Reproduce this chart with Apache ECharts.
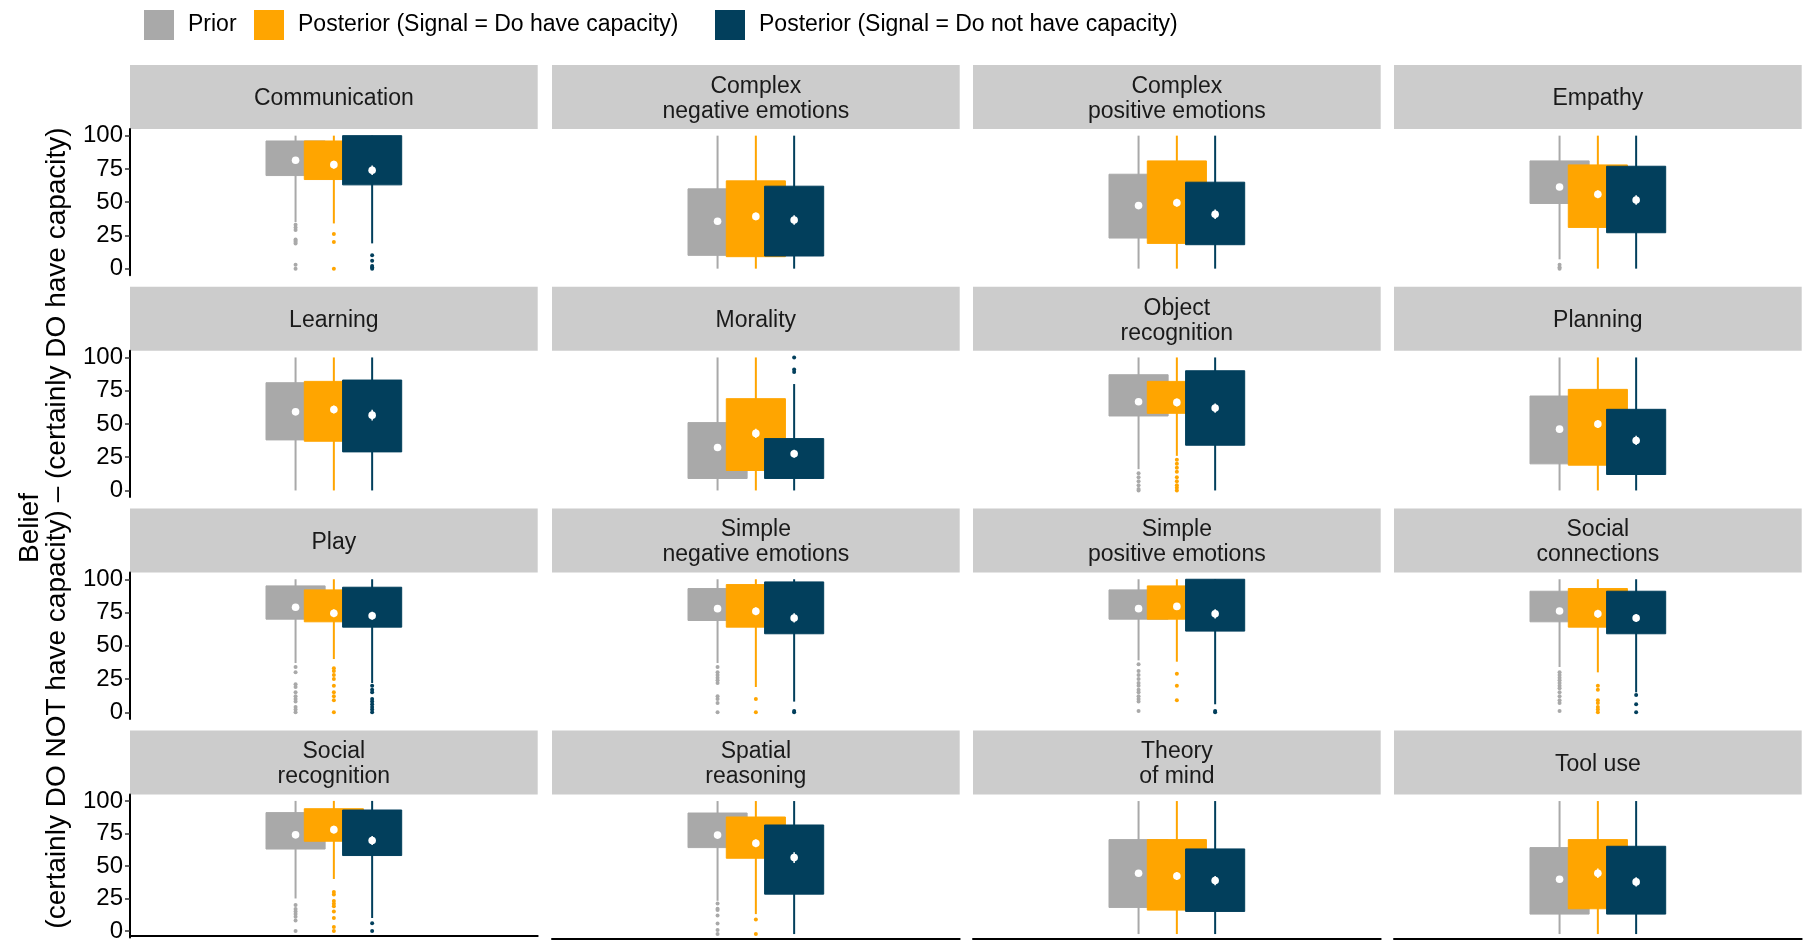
<!DOCTYPE html>
<html>
<head>
<meta charset="utf-8">
<title>Beliefs about capacities</title>
<script src="https://cdn.jsdelivr.net/npm/echarts@6/dist/echarts.min.js"></script>
<style>
html, body { margin: 0; padding: 0; background: #fff; }
#chart { width: 1807px; height: 943px; }
</style>
</head>
<body>
<div id="chart"></div>
<script>
// facets, in reading order
const capacities = [
  'Communication', 'Complex\nnegative emotions', 'Complex\npositive emotions', 'Empathy',
  'Learning', 'Morality', 'Object\nrecognition', 'Planning',
  'Play', 'Simple\nnegative emotions', 'Simple\npositive emotions', 'Social\nconnections',
  'Social\nrecognition', 'Spatial\nreasoning', 'Theory\nof mind', 'Tool use'
]
const groupNames = ['Prior', 'Posterior (Signal = Do have capacity)', 'Posterior (Signal = Do not have capacity)']
const yTicks = [0, 25, 50, 75, 100]

// [lower whisker, Q1, Q3, upper whisker]
const priorBoxes = [
  [35, 70, 96, 100], [0, 10, 60, 100], [0, 23, 71, 100], [7, 49, 81, 100],
  [0, 38, 81, 100], [0, 9, 51, 100], [16, 56, 87, 100], [0, 20, 71, 100],
  [37, 70, 95, 100], [37, 69, 93, 100], [39, 70, 92, 100], [34, 68, 91, 100],
  [25, 63, 91, 100], [25, 65, 91, 100], [0, 20, 71, 100], [0, 15, 65, 100]
]
const haveBoxes = [
  [34, 67, 96, 100], [0, 9, 66, 100], [0, 19, 81, 100], [0, 31, 78, 100],
  [0, 37, 82, 100], [0, 15, 69, 100], [26, 58, 82, 100], [0, 19, 76, 100],
  [40, 68, 92, 100], [19, 64, 96, 100], [38, 70, 95, 100], [30, 64, 93, 100],
  [40, 69, 94, 100], [15, 57, 88, 100], [0, 18, 71, 100], [0, 19, 71, 100]
]
const notBoxes = [
  [19, 63, 100, 100], [0, 9.5, 62, 100], [0, 18, 65, 100], [0, 27, 77, 100],
  [0, 29, 83, 100], [0, 9, 39, 80], [0, 34, 90, 100], [0, 12, 61, 100],
  [22, 64, 94, 100], [8, 59, 98, 100], [6, 61, 100, 100], [15, 59, 91, 100],
  [10, 58, 93, 100], [0, 30, 82, 100], [0, 17, 64, 100], [0, 15, 66, 100]
]

const priorMeans = [81.5, 35.6, 47.4, 61.4, 59.1, 32.3, 66.7, 46.1, 78.9, 77.9, 77.9, 76.1, 73.9, 74.4, 45.7, 41.2]
const haveMeans = [78.2, 39.3, 49.6, 55.9, 60.9, 42.9, 66.2, 49.9, 74.4, 75.9, 79.6, 74, 77.9, 68.3, 43.7, 45.7]
const notMeans = [74, 36.6, 40.9, 51.6, 56.6, 27.6, 61.9, 37.6, 72.6, 70.9, 74, 70.9, 69.6, 57.5, 40.2, 39.2]

// half width of the interval drawn through each mean
const priorCI = [2, 2, 2, 2, 2, 2, 2, 2, 1.5, 1.5, 1.5, 1.5, 2, 2, 2, 2]
const haveCI = [3, 3, 3, 3, 3, 3.5, 3, 3, 3, 3, 2.5, 3, 3, 3, 3, 3.5]
const notCI = [3.5, 3.5, 3.5, 3.5, 4, 3, 3.5, 3.5, 3, 3.5, 3.5, 3, 3.5, 4, 3.5, 3.5]

const priorOutliers = [
  [33, 31, 29, 22, 21, 20, 19, 3, 0], [], [], [3, 1, 0],
  [], [], [13, 10, 7, 4, 1, 0], [],
  [34, 30, 21, 19, 15, 12, 10, 8, 4, 2, 0], [34, 30, 28, 26, 24, 22, 12, 10, 7, 0],
  [36, 31, 28, 25, 22, 20, 17, 15, 12, 10, 8, 1], [30, 28, 26, 24, 22, 20, 18, 15, 12, 9, 7, 1],
  [20, 17, 15, 13, 11, 8, 0], [23, 19, 18, 14, 8, 3, 0], [], []
]
const haveOutliers = [
  [26, 20, 0], [], [], [],
  [], [], [23, 20, 17, 14, 10, 7, 4, 2, 0], [],
  [33, 31, 28, 25, 20, 15, 12, 9, 0], [10, 0], [29, 20, 9], [20, 17, 9, 7, 4, 2, 0],
  [30, 28, 23, 21, 19, 15, 10, 3, 0], [11, 0], [], []
]
const notOutliers = [
  [10, 6, 2, 1, 0], [], [], [],
  [], [100, 91, 89], [], [],
  [20, 17, 15, 10, 8, 6, 4, 2, 0], [1, 0], [1, 0], [13, 6, 0],
  [6, 0], [], [], []
]

const COLORS = ['#A9A9A9', '#FFA500', '#023F5C']
const FONT = "'Liberation Sans', Arial, sans-serif"

// panel geometry (px)
const COL_LEFT = [130, 552, 973, 1394]
const ROW_TOP = [129, 350.8, 572.6, 794.4]
const PANEL_W = 407.7
const PANEL_H = 146.3
const STRIP_H = 64
// dodge positions on the x scale (one discrete slot at x = 1)
const DODGE = [-0.1127, 0, 0.1127]
const BOX_W = 0.174

const boxes = [priorBoxes, haveBoxes, notBoxes]
const means = [priorMeans, haveMeans, notMeans]
const cis = [priorCI, haveCI, notCI]
const outliers = [priorOutliers, haveOutliers, notOutliers]

function renderBox(params, api) {
  const x = api.value(0)
  const lo = api.coord([x, api.value(1)])
  const q1 = api.coord([x, api.value(2)])
  const q3 = api.coord([x, api.value(3)])
  const hi = api.coord([x, api.value(4)])
  const w = api.size([BOX_W, 0])[0]
  const color = api.visual('color')
  return {
    type: 'group',
    children: [
      { type: 'line', shape: { x1: lo[0], y1: lo[1], x2: hi[0], y2: hi[1] }, style: { stroke: color, lineWidth: 2 } },
      { type: 'rect', shape: { x: q3[0] - w / 2, y: q3[1], width: w, height: q1[1] - q3[1] }, style: { fill: color, stroke: color, lineWidth: 1 } }
    ]
  }
}

function renderMean(params, api) {
  const x = api.value(0)
  const m = api.value(1)
  const h = api.value(2)
  const c = api.coord([x, m])
  const lo = api.coord([x, m - h])
  const hi = api.coord([x, m + h])
  return {
    type: 'group',
    children: [
      { type: 'line', shape: { x1: lo[0], y1: lo[1], x2: hi[0], y2: hi[1] }, style: { stroke: '#fff', lineWidth: 1.5 } },
      { type: 'circle', shape: { cx: c[0], cy: c[1], r: 3.8 }, style: { fill: '#fff' } }
    ]
  }
}

const grid = []
const xAxis = []
const yAxis = []
const series = []
const graphic = []

capacities.forEach((cap, i) => {
  const r = Math.floor(i / 4)
  const c = i % 4
  grid.push({ left: COL_LEFT[c], top: ROW_TOP[r], width: PANEL_W, height: PANEL_H })
  xAxis.push({
    gridIndex: i, type: 'value', min: 0.4, max: 1.6, show: r === 3, offset: -2,
    axisLine: { show: true, onZero: false, lineStyle: { color: '#000', width: 2 } },
    axisTick: { show: false }, axisLabel: { show: false }, splitLine: { show: false }
  })
  yAxis.push({
    gridIndex: i, type: 'value', min: -5, max: 105, show: c === 0,
    axisLine: { show: true, onZero: false, lineStyle: { color: '#000', width: 2 } },
    axisTick: { show: true, length: 5, customValues: yTicks, lineStyle: { color: '#333', width: 1.5 } },
    axisLabel: { customValues: yTicks, fontSize: 24, color: '#000', margin: 7, fontFamily: FONT },
    splitLine: { show: false }
  })

  // strip
  graphic.push({
    type: 'rect', silent: true,
    shape: { x: COL_LEFT[c], y: ROW_TOP[r] - STRIP_H, width: PANEL_W, height: STRIP_H },
    style: { fill: '#CCCCCC' }
  })
  graphic.push({
    type: 'text', silent: true,
    x: COL_LEFT[c] + PANEL_W / 2, y: ROW_TOP[r] - STRIP_H / 2 + 2,
    style: {
      text: cap, fontSize: 23, lineHeight: 25, fontFamily: FONT, fill: '#1a1a1a',
      align: 'center', verticalAlign: 'middle', textAlign: 'center', textVerticalAlign: 'middle'
    }
  })

  for (let g = 0; g < 3; g++) {
    const x = 1 + DODGE[g]
    series.push({
      type: 'custom', name: groupNames[g], xAxisIndex: i, yAxisIndex: i,
      renderItem: renderBox, itemStyle: { color: COLORS[g] },
      encode: { x: 0, y: [1, 2, 3, 4] },
      data: [[x].concat(boxes[g][i])], silent: true
    })
    if (outliers[g][i].length) {
      series.push({
        type: 'scatter', name: groupNames[g], xAxisIndex: i, yAxisIndex: i,
        symbolSize: 4, itemStyle: { color: COLORS[g], opacity: 1 },
        data: outliers[g][i].map(v => [x, v]), silent: true
      })
    }
  }
  series.push({
    type: 'custom', name: 'Mean', xAxisIndex: i, yAxisIndex: i, z: 3,
    renderItem: renderMean, encode: { x: 0, y: 1 },
    data: [0, 1, 2].map(g => [1 + DODGE[g], means[g][i], cis[g][i]]), silent: true
  })
})

// y-axis title spanning all rows
graphic.push({
  type: 'text', silent: true, x: 44, y: 528, rotation: Math.PI / 2,
  style: {
    text: 'Belief\n(certainly DO NOT have capacity) – (certainly DO have capacity)',
    fontSize: 28, lineHeight: 27, fontFamily: FONT, fill: '#000',
    align: 'center', verticalAlign: 'middle', textAlign: 'center', textVerticalAlign: 'middle'
  }
})

const legendLeft = [144, 254, 715]
const legend = groupNames.map((name, g) => ({
  data: [name], left: legendLeft[g], top: 10, padding: 0,
  icon: 'rect', itemWidth: 30, itemHeight: 30, selectedMode: false,
  textStyle: { fontSize: 23, color: '#000', fontFamily: FONT, padding: [0, 0, 0, 9] }
}))

const chart = echarts.init(document.getElementById('chart'))
chart.setOption({
  animation: false,
  backgroundColor: '#fff',
  legend: legend,
  grid: grid,
  xAxis: xAxis,
  yAxis: yAxis,
  graphic: graphic,
  series: series
})
</script>
</body>
</html>
